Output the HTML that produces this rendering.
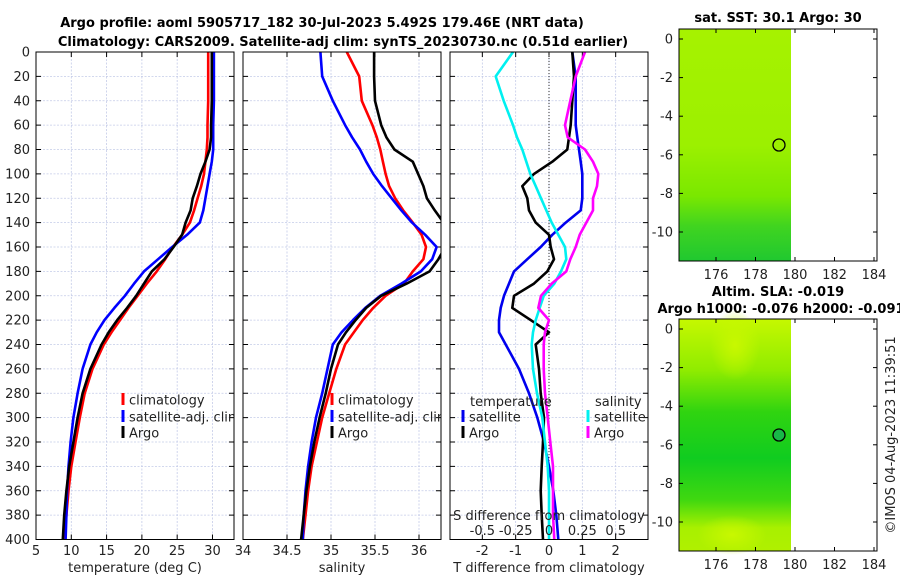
<!DOCTYPE html>
<html><head><meta charset="utf-8">
<style>
html,body{margin:0;padding:0;background:#fff;}
svg{display:block;font-family:"DejaVu Sans","Liberation Sans",sans-serif;}
</style></head>
<body>
<svg id="chart" width="900" height="580" viewBox="0 0 900 580" xmlns="http://www.w3.org/2000/svg">
<defs>
  <clipPath id="c1"><rect x="36" y="52" width="198" height="488"/></clipPath>
  <clipPath id="c2"><rect x="243" y="52" width="198" height="488"/></clipPath>
  <clipPath id="c3"><rect x="450" y="52" width="198" height="488"/></clipPath>
  <linearGradient id="sstg" x1="0" y1="0" x2="0" y2="1">
    <stop offset="0" stop-color="#a6f200"/><stop offset="0.5" stop-color="#9cf000"/>
    <stop offset="0.72" stop-color="#7ae800"/><stop offset="0.85" stop-color="#40d420"/>
    <stop offset="1" stop-color="#20c830"/>
  </linearGradient>
  <linearGradient id="slag" x1="0" y1="0" x2="0" y2="1">
    <stop offset="0" stop-color="#c6f800"/><stop offset="0.22" stop-color="#90ec00"/>
    <stop offset="0.4" stop-color="#30d410"/><stop offset="0.6" stop-color="#10cc20"/>
    <stop offset="0.78" stop-color="#40d810"/><stop offset="0.9" stop-color="#a8f000"/>
    <stop offset="1" stop-color="#b0f000"/>
  </linearGradient>
  <radialGradient id="slab" cx="0.5" cy="0.5" r="0.5">
    <stop offset="0" stop-color="#c8f800"/><stop offset="1" stop-color="#c8f800" stop-opacity="0"/>
  </radialGradient>
</defs>
<text x="322" y="27" text-anchor="middle" font-size="13" font-weight="bold">Argo profile: aoml 5905717_182 30-Jul-2023 5.492S 179.46E (NRT data)</text>
<text x="343" y="46" text-anchor="middle" font-size="13" font-weight="bold">Climatology: CARS2009. Satellite-adj clim: synTS_20230730.nc (0.51d earlier)</text>
<g id="panels"></g>
<g id="maps">
  <text x="778" y="22" text-anchor="middle" font-size="13" font-weight="bold">sat. SST: 30.1 Argo: 30</text>
  <rect x="679" y="29" width="112" height="232" fill="url(#sstg)"/>
  <rect x="679" y="29" width="198" height="232" fill="none" stroke="#000"/>
  <circle cx="779" cy="145" r="6" fill="none" stroke="#000" stroke-width="1.3"/>
  <text x="778" y="296" text-anchor="middle" font-size="13" font-weight="bold">Altim. SLA: -0.019</text>
  <text x="781" y="313" text-anchor="middle" font-size="13" font-weight="bold">Argo h1000: -0.076 h2000: -0.091</text>
  <rect x="679" y="319" width="112" height="232" fill="url(#slag)"/>
  <ellipse cx="732" cy="535" rx="35" ry="20" fill="url(#slab)"/>
  <ellipse cx="735" cy="345" rx="25" ry="35" fill="url(#slab)"/>
  <rect x="679" y="319" width="198" height="232" fill="none" stroke="#000"/>
  <circle cx="779" cy="435" r="6" fill="#18b848" stroke="#000" stroke-width="1.3"/>
  <text transform="translate(895,435) rotate(-90)" text-anchor="middle" font-size="13" fill="#222">©IMOS 04-Aug-2023 11:39:51</text>
</g>
<script>
var depths=[0,20,40,60,70,80,90,100,110,120,130,140,150,160,170,180,190,200,210,220,230,240,260,280,300,320,340,360,380,400];
var tClim=[29.4,29.4,29.4,29.3,29.3,29.2,29.0,28.8,28.4,27.9,27.4,26.8,25.7,24.4,23.3,22.1,20.7,19.4,18.1,16.9,15.7,14.6,13.0,11.9,11.2,10.6,10.0,9.6,9.3,9.0];
var tSat=[30.2,30.2,30.2,30.1,30.1,30.1,29.9,29.6,29.3,29.0,28.7,28.2,26.4,24.3,22.3,20.3,18.9,17.6,16.1,14.7,13.6,12.7,11.6,10.9,10.3,9.9,9.6,9.4,9.3,9.2];
var tArgo=[29.9,29.9,29.9,29.8,29.8,29.6,29.0,28.3,27.8,27.2,26.9,26.2,25.7,24.5,23.2,21.4,20.3,19.2,17.9,16.5,15.3,14.3,12.7,11.6,10.9,10.3,9.7,9.3,9.0,8.8];
var sClim=[35.18,35.32,35.35,35.47,35.52,35.56,35.59,35.62,35.66,35.73,35.82,35.93,36.03,36.08,36.05,35.93,35.83,35.62,35.48,35.36,35.26,35.16,35.06,34.98,34.9,34.84,34.78,34.74,34.71,34.68];
var sSat=[34.88,34.9,35.02,35.16,35.24,35.33,35.4,35.48,35.58,35.69,35.8,35.92,36.07,36.2,36.15,36.02,35.8,35.56,35.39,35.25,35.12,35.02,34.96,34.9,34.83,34.78,34.74,34.71,34.69,34.68];
var sArgo=[35.49,35.49,35.5,35.57,35.63,35.72,35.93,35.99,36.05,36.09,36.18,36.28,36.3,36.3,36.22,36.12,35.86,35.57,35.4,35.28,35.17,35.08,35.0,34.94,34.87,34.81,34.76,34.72,34.69,34.66];
var dTSat=[0.7,0.8,0.8,0.8,0.85,0.9,0.95,1.0,1.0,1.0,0.95,0.5,0.1,-0.25,-0.65,-1.05,-1.2,-1.35,-1.45,-1.5,-1.5,-1.3,-0.9,-0.6,-0.35,-0.15,0.0,0.13,0.22,0.28];
var dTArgo=[0.7,0.75,0.7,0.65,0.6,0.55,0.1,-0.45,-0.8,-0.65,-0.6,-0.4,0.0,0.05,0.15,-0.05,-0.45,-1.05,-1.1,-0.55,0.0,-0.4,-0.3,-0.25,-0.15,-0.18,-0.22,-0.25,-0.22,-0.18];
var dSSat=[-0.27,-0.4,-0.34,-0.27,-0.24,-0.2,-0.17,-0.14,-0.1,-0.06,-0.02,0.02,0.07,0.12,0.13,0.09,0.04,-0.04,-0.07,-0.1,-0.12,-0.13,-0.12,-0.09,-0.05,-0.03,-0.01,0.0,0.0,0.0];
var dSArgo=[0.27,0.2,0.16,0.12,0.14,0.27,0.33,0.37,0.36,0.33,0.33,0.28,0.23,0.2,0.16,0.13,0.02,-0.06,-0.08,0.0,-0.03,-0.04,-0.04,-0.03,-0.01,0.01,0.03,0.03,0.03,0.04];
var yTicks=[0,20,40,60,80,100,120,140,160,180,200,220,240,260,280,300,320,340,360,380,400];
var tTicks=[5,10,15,20,25,30];
var sTicks=[34,34.5,35,35.5,36];
var dTTicks=[-2,-1,0,1,2];
var dSTicks=[-0.5,-0.25,0,0.25,0.5];
var dSTickLabels=["-0.5","-0.25","0","0.25","0.5"];
var mapLonTicks=[176,178,180,182,184];
var mapLatTicks=[0,-2,-4,-6,-8,-10];

var NS='http://www.w3.org/2000/svg';
var root=document.getElementById('panels');
function mk(tag,attrs,parent){var e=document.createElementNS(NS,tag);for(var k in attrs)e.setAttribute(k,attrs[k]);(parent||root).appendChild(e);return e;}
var Y0=52,Y1=539.5;
function yS(d){return Y0+(d/400)*(Y1-Y0);}
function lin(d0,d1,p0,p1){return function(v){return p0+(v-d0)/(d1-d0)*(p1-p0);};}
var x1=lin(5,33.05,36,234), x2=lin(34,36.25,243,441), x3=lin(-2.97,2.97,450,648), x3s=function(s){return x3(s*4);};

function axes(L,W,xs,ticks,labels,name,showY){
  var g=mk('g',{});
  
  
  ticks.forEach(function(t){var x=xs(t);
    mk('line',{x1:x,x2:x,y1:Y0,y2:Y1,stroke:'#c4cbe8','stroke-width':0.8,'stroke-dasharray':'2,1.5'},g);
    mk('line',{x1:x,x2:x,y1:Y1,y2:Y1-5,stroke:'#000'},g);
    mk('line',{x1:x,x2:x,y1:Y0,y2:Y0+5,stroke:'#000'},g);
  });
  yTicks.forEach(function(d){var y=yS(d);
    mk('line',{x1:L,x2:L+W,y1:y,y2:y,stroke:'#c4cbe8','stroke-width':0.8,'stroke-dasharray':'2,1.5'},g);
    mk('line',{x1:L,x2:L+5,y1:y,y2:y,stroke:'#000'},g);
    mk('line',{x1:L+W-5,x2:L+W,y1:y,y2:y,stroke:'#000'},g);
    if(showY){var t=mk('text',{x:L-6,y:y+4.5,'text-anchor':'end','font-size':13,fill:'#222'},g);t.textContent=d;
      
      }
  });
  if(labels){ticks.forEach(function(t,i){var tx=mk('text',{x:xs(t),y:555,'text-anchor':'middle','font-size':13,fill:'#222'},g);tx.textContent=labels[i];
    
    });}
  return g;
}
function frame(L,W){var r=mk('rect',{x:L,y:Y0,width:W,height:Y1-Y0,fill:'none',stroke:'#000','stroke-width':1});
  
  }
function line(vals,xs,color,clip,name){
  var pts=vals.map(function(v,i){return xs(v).toFixed(1)+','+yS(depths[i]).toFixed(1);}).join(' ');
  var p=mk('polyline',{points:pts,fill:'none',stroke:color,'stroke-width':2.6,'stroke-linejoin':'round','clip-path':'url(#'+clip+')'});
  
  
}
function legend(x,y,color,label,clip){
  var g=mk('g',{'clip-path':'url(#'+clip+')'});
  
  
  mk('rect',{x:x-1.5,y:y-7,width:3,height:12,fill:color},g);
  var t=mk('text',{x:x+6,y:y+4.5,'font-size':13,fill:'#222'},g);t.textContent=label;
}

// Panel 1
axes(36,198,x1,tTicks,tTicks,'temperature-axes',true);
line(tClim,x1,'#ff0000','c1','temp-climatology-line');
line(tSat,x1,'#0000ff','c1','temp-satellite-line');
line(tArgo,x1,'#000000','c1','temp-argo-line');
legend(123,400,'#ff0000','climatology','c1');
legend(123,417,'#0000ff','satellite-adj. clim','c1');
legend(123,433,'#000000','Argo','c1');
frame(36,198);
var xl1=mk('text',{x:135,y:572,'text-anchor':'middle','font-size':13,fill:'#222'});xl1.textContent='temperature (deg C)';



// Panel 2
axes(243,198,x2,sTicks,sTicks,'salinity-axes',false);
line(sClim,x2,'#ff0000','c2','sal-climatology-line');
line(sSat,x2,'#0000ff','c2','sal-satellite-line');
line(sArgo,x2,'#000000','c2','sal-argo-line');
legend(332,400,'#ff0000','climatology','c2');
legend(332,417,'#0000ff','satellite-adj. clim','c2');
legend(332,433,'#000000','Argo','c2');
frame(243,198);
var xl2=mk('text',{x:342,y:572,'text-anchor':'middle','font-size':13,fill:'#222'});xl2.textContent='salinity';



// Panel 3
axes(450,198,x3,dTTicks,dTTicks,'difference-axes',false);
var zl=mk('line',{x1:x3(0),x2:x3(0),y1:Y0,y2:Y1,stroke:'#333','stroke-width':1,'stroke-dasharray':'1,2'});


line(dTSat,x3,'#0000ee','c3','dT-satellite-line');
line(dTArgo,x3,'#000000','c3','dT-argo-line');
line(dSSat,x3s,'#00f0f0','c3','dS-satellite-line');
line(dSArgo,x3s,'#ff00ff','c3','dS-argo-line');
var th=mk('text',{x:470,y:406,'font-size':13,fill:'#222','clip-path':'url(#c3)'});th.textContent='temperature';


var sh=mk('text',{x:595,y:406,'font-size':13,fill:'#222'});sh.textContent='salinity';


legend(463,417,'#0000ee','satellite','c3');
legend(463,433,'#000000','Argo','c3');
legend(588,417,'#00f0f0','satellite','c3');
legend(588,433,'#ff00ff','Argo','c3');
var sd=mk('text',{x:549,y:520,'text-anchor':'middle','font-size':13,fill:'#222'});sd.textContent='S difference from climatology';


dSTicks.forEach(function(s,i){var t=mk('text',{x:x3s(s),y:535,'text-anchor':'middle','font-size':13,fill:'#222'});t.textContent=dSTickLabels[i];
  
  });
frame(450,198);
var xl3=mk('text',{x:549,y:572,'text-anchor':'middle','font-size':13,fill:'#222'});xl3.textContent='T difference from climatology';



// map ticks
var maps=document.getElementById('maps');
var lonS=lin(176,180,716,795);
[[29,261,39],[319,551,329]].forEach(function(m){
  var latS=lin(0,-10,m[2],m[2]+193);
  mapLonTicks.forEach(function(lo){var x=lonS(lo);
    mk('line',{x1:x,x2:x,y1:m[1],y2:m[1]-4,stroke:'#000'},maps);
    mk('line',{x1:x,x2:x,y1:m[0],y2:m[0]+4,stroke:'#000'},maps);
    var t=mk('text',{x:x,y:m[1]+18,'text-anchor':'middle','font-size':13,fill:'#222'},maps);t.textContent=lo;
    
    });
  mapLatTicks.forEach(function(la){var y=latS(la);
    mk('line',{x1:679,x2:683,y1:y,y2:y,stroke:'#000'},maps);
    mk('line',{x1:873,x2:877,y1:y,y2:y,stroke:'#000'},maps);
    var t=mk('text',{x:673,y:y+4.5,'text-anchor':'end','font-size':13,fill:'#222'},maps);t.textContent=la;
    
    });
});
</script>
</svg>
</body></html>
